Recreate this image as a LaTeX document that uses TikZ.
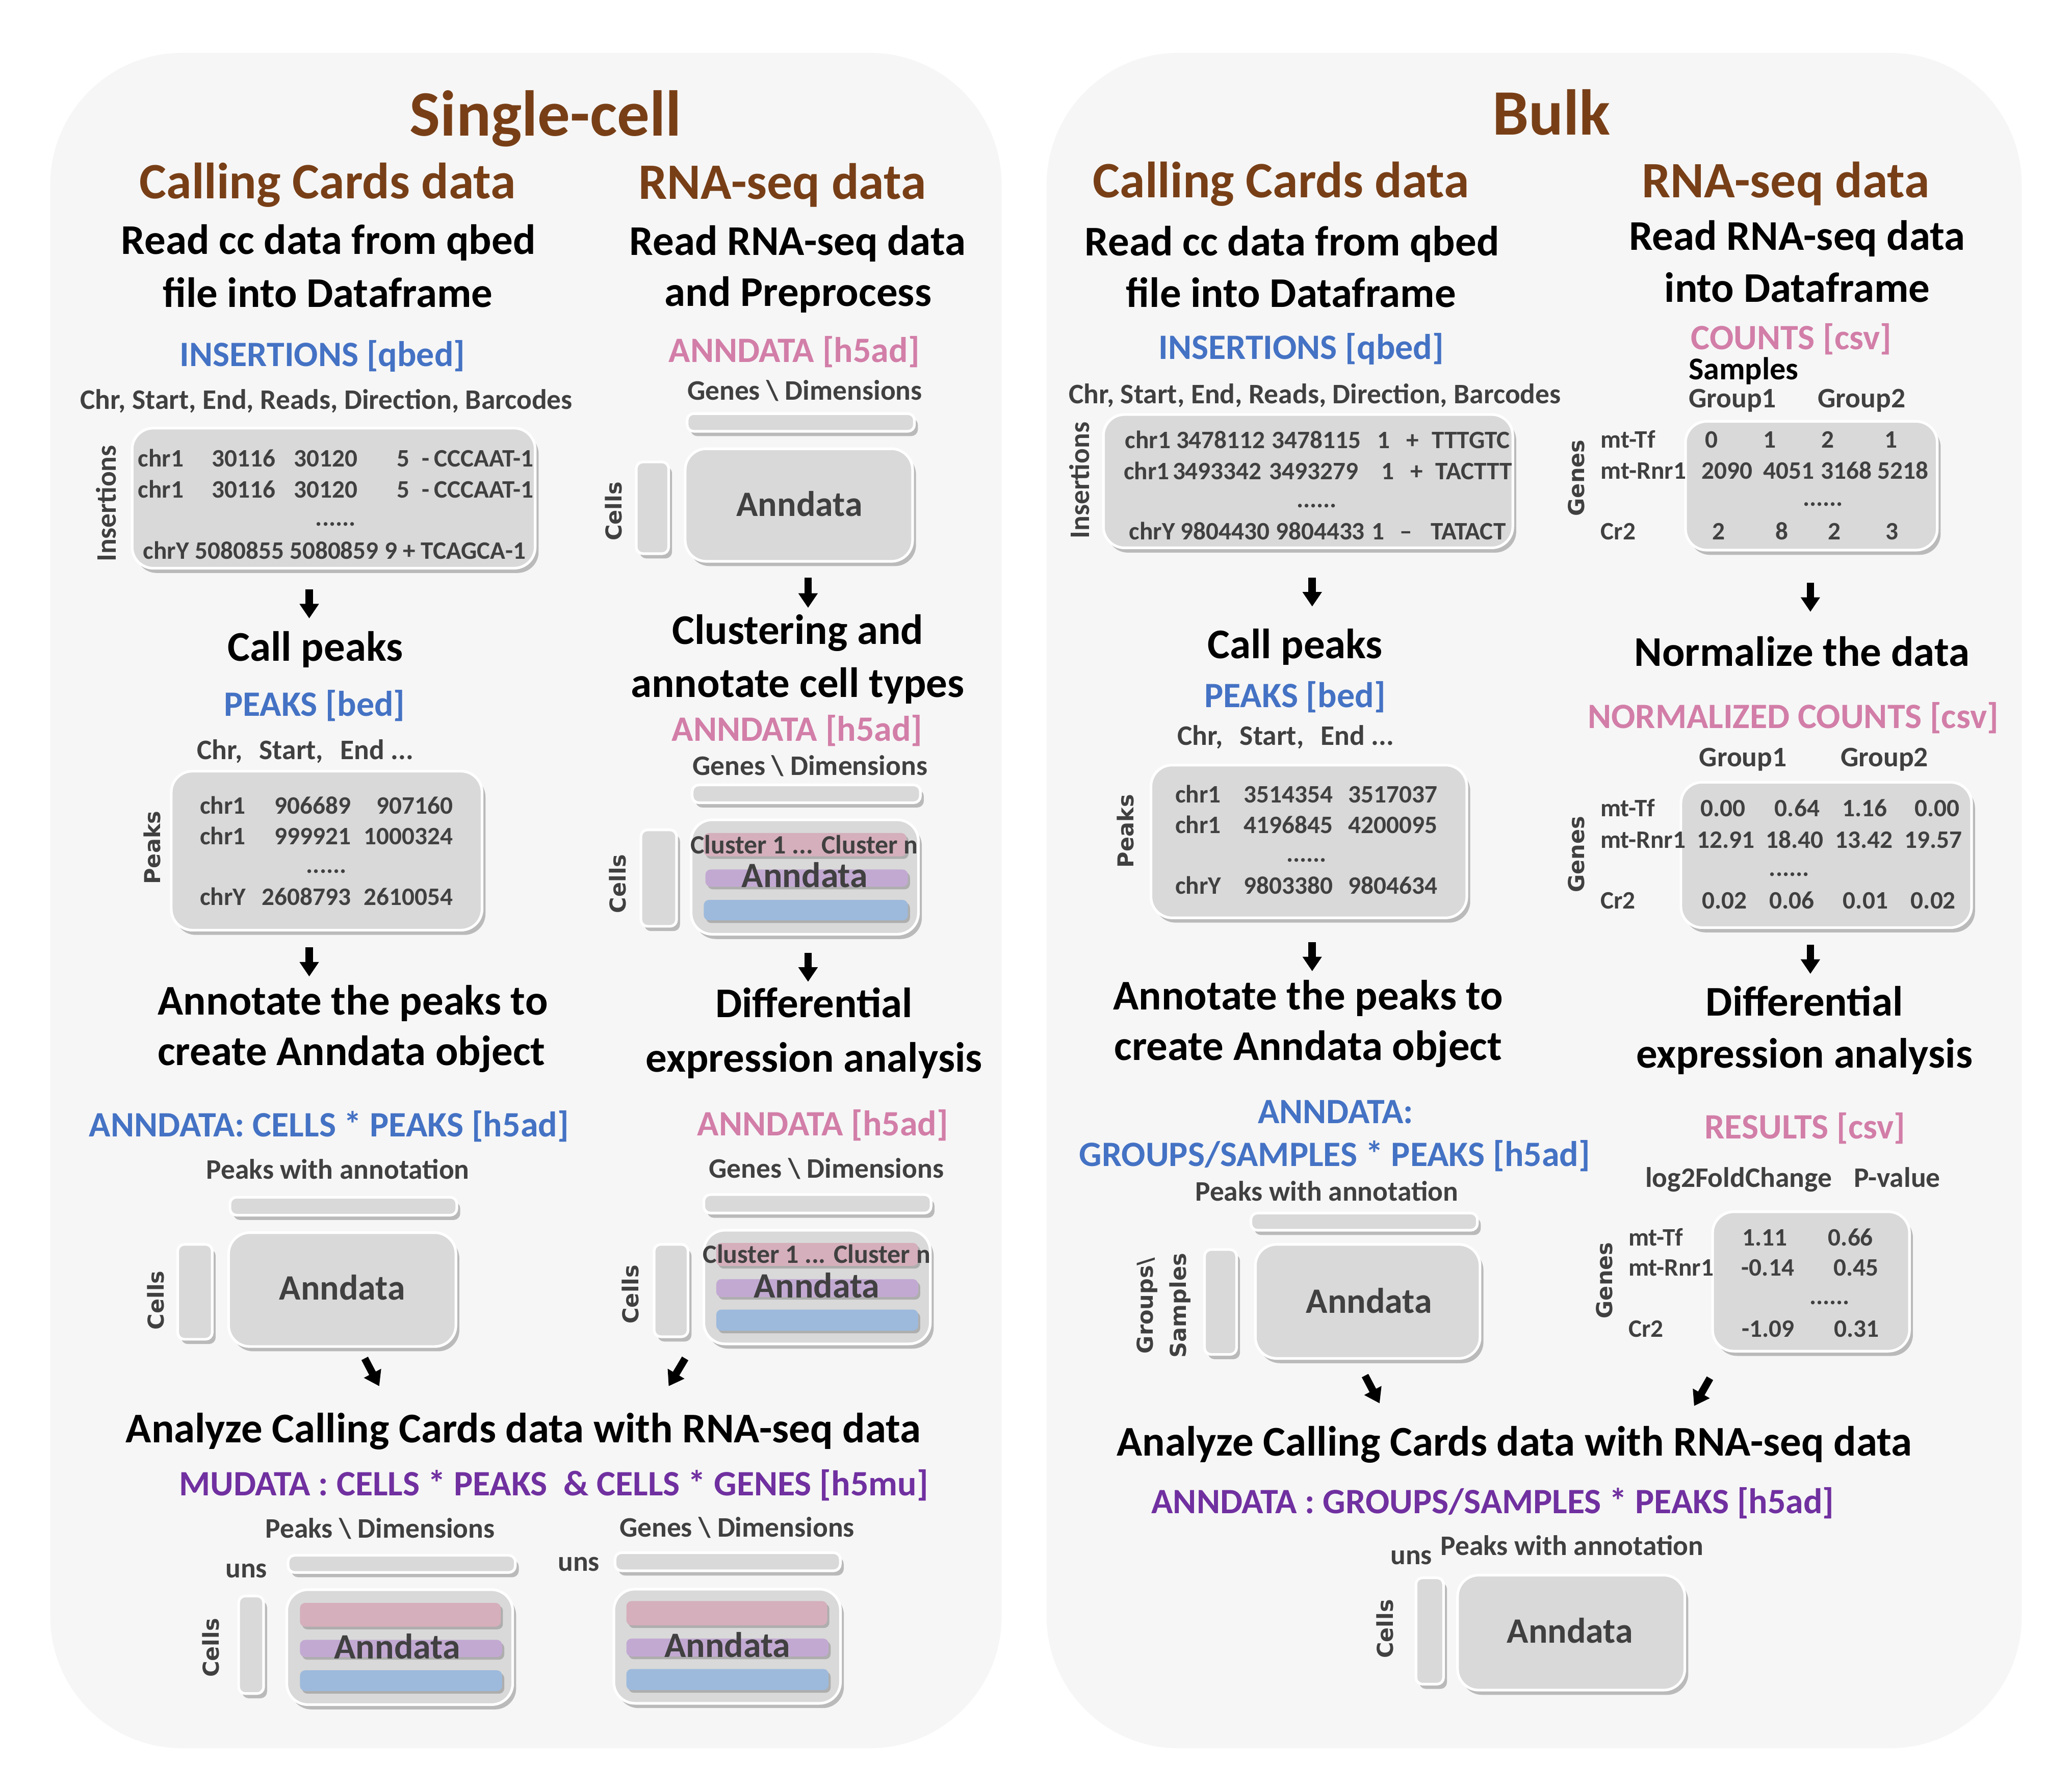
\documentclass[tikz,border=0pt]{standalone}
\usepackage{fontspec}
\setmainfont{Carlito}
\newfontfamily\widesans{DejaVu Sans}
\usetikzlibrary{fit,positioning,shadows,arrows.meta}
\definecolor{ccbrown}{RGB}{120,63,23}
\definecolor{ccblue}{RGB}{68,114,196}
\definecolor{rnapink}{RGB}{210,126,168}
\definecolor{mupurple}{RGB}{112,48,160}
\definecolor{txtgray}{RGB}{64,64,64}
\definecolor{boxgray}{RGB}{217,217,217}
\definecolor{panelgray}{RGB}{246,246,246}
\definecolor{bandpink}{RGB}{213,175,187}
\definecolor{bandpurple}{RGB}{194,169,210}
\definecolor{bandblue}{RGB}{157,186,220}

\begin{document}
\begin{tikzpicture}[x=0.5pt,y=-0.5pt,inner sep=0pt]
\tikzstyle{title}=[font=\fontsize{24.5}{29}\selectfont\bfseries, text=ccbrown, anchor=base, yshift=-7.9pt]
\tikzstyle{sub}=[font=\fontsize{19.3}{23}\selectfont\bfseries, text=ccbrown, anchor=base, yshift=-6.2pt]
\tikzstyle{head}=[font=\fontsize{16}{19}\selectfont\bfseries, anchor=base, yshift=-5.15pt]
\tikzstyle{fmt}=[font=\fontsize{13.5}{16}\selectfont\bfseries, anchor=base, yshift=-4.35pt]
\tikzstyle{samp}=[font=\fontsize{12}{14}\selectfont\bfseries, anchor=base, yshift=-3.86pt]
\tikzstyle{dim}=[font=\fontsize{10.7}{13}\selectfont\bfseries, text=txtgray, anchor=base, yshift=-3.45pt]
\tikzstyle{cell}=[font=\fontsize{9.5}{11}\selectfont\bfseries, text=txtgray, anchor=base, yshift=-3.06pt]
\tikzstyle{clus}=[font=\fontsize{10}{12}\selectfont\bfseries, text=txtgray, anchor=base, yshift=-3.2pt]
\tikzstyle{ann}=[font=\fontsize{13.5}{16}\selectfont\bfseries, text=txtgray, anchor=base, yshift=-4.35pt]
\tikzstyle{side}=[font=\widesans\fontsize{8.3}{10}\selectfont\bfseries, text=txtgray, rotate=90]
\tikzstyle{sidecal}=[font=\fontsize{10.7}{13}\selectfont\bfseries, text=txtgray, rotate=90]
\tikzstyle{panel}=[rectangle, rounded corners=50pt, fill=panelgray]
\tikzstyle{tbl}=[rectangle, rounded corners=8pt, fill=boxgray, draw=white, line width=1pt, drop shadow={shadow xshift=1.3pt, shadow yshift=-1.8pt, opacity=0.35, fill=black!70}]
\tikzstyle{bar}=[tbl, rounded corners=2.5pt]
\tikzstyle{band}=[rectangle, rounded corners=2pt, drop shadow={shadow xshift=0.8pt, shadow yshift=-1pt, opacity=0.3, fill=black!70}]
\tikzstyle{flow}=[-{Triangle[width=7pt,length=5.5pt]}, line width=2.8pt]
\fill[white] (0,0) rectangle (1568,1353);
\useasboundingbox (0,0) rectangle (1568,1353);
\node[panel, fit={(38,40) (758,1323)}] (scpanel) {};
\node[panel, fit={(792,40) (1530,1323)}] (bkpanel) {};
\foreach \n/\xa/\ya/\xb/\yb in {scl1/234/446/234/468, scl2/234/717/234/739, scr1/611.5/437/611.5/460, scr2/611.5/721/611.5/743, scd1/276/1028/287/1049, scd2/518.5/1028/506/1049, bkl1/993/437/993/459, bkl2/993/713/993/735, bkr1/1370/441/1370/463, bkr2/1370/715/1370/737, bkd1/1033/1041/1044/1062, bkd2/1294/1043/1282/1064}
{
\coordinate (\n-s) at (\xa,\ya);
\coordinate (\n-e) at (\xb,\yb);
\draw[flow] (\n-s) -- (\n-e);
}
\node[title] (sctitle) at (413,87) {Single-cell};
\node[sub] (sccc) at (248,138) {Calling Cards data};
\node[sub] (scrna) at (592,138.4) {RNA-seq data};
\node[head] (scread1) at (248.6,182) {Read cc data from qbed};
\node[head] (scread2) at (248,222) {file into Dataframe};
\node[head] (scrnaread1) at (603.6,183) {Read RNA-seq data};
\node[head] (scrnaread2) at (604,221.5) {and Preprocess};
\node[fmt, text=ccblue] (scins) at (244,268.5) {INSERTIONS [qbed]};
\node[fmt, text=rnapink] (scrnafmt) at (601,265.5) {ANNDATA [h5ad]};
\node[dim] (scinscols) at (247,302.6) {Chr, Start, End, Reads, Direction, Barcodes};
\node[dim] (scrnadim) at (609,295.8) {Genes \textbackslash{} Dimensions};
\node[tbl, fit={(100,324) (405,430)}] (scinsbox) {};
\foreach \y [count=\j] in {347,370.6}
 \foreach \t/\x [count=\i] in {chr1/104,30116/160,30120/222,5/300,-/319,CCCAAT-1/328}
  \node[cell, anchor=base west] (scins\j-\i) at (\x,\y) {\t};
\node[cell] (scinsdots) at (254,392) {......};
\node[cell, anchor=base west] (scins3) at (108,417) {chrY 5080855 5080859 9 + TCAGCA-1};
\node[sidecal] (scinsside) at (80.5,381) {Insertions};
\node[bar, fit={(520,313) (692,326.4)}] (scgenebar) {};
\node[bar, fit={(481.5,349.6) (506,419)}] (sccellbar) {};
\node[tbl, fit={(518.5,339.6) (690.6,424.8)}] (scannbox) {};
\node[ann] (scann) at (605,382) {Anndata};
\node[side] (sccells) at (464.4,387) {Cells};
\node[head] (sccall) at (238.6,490) {Call peaks};
\node[fmt, text=ccblue] (scpeaks) at (238,533) {PEAKS [bed]};
\node[dim] (scpeakcols) at (231,567.7) {Chr,\hspace{4pt} Start,\hspace{4pt} End ...};
\node[tbl, fit={(129.6,583.6) (364.8,703.9)}] (scpeakbox) {};
\foreach \c/\s/\e/\y [count=\i] in {chr1/906689/907160/610, chr1/999921/1000324/633, chrY/2608793/2610054/679}
{
\node[cell, anchor=base west] (scpk\i-a) at (151,\y) {\c};
\node[cell, anchor=base east] (scpk\i-b) at (266,\y) {\s};
\node[cell, anchor=base east] (scpk\i-c) at (343,\y) {\e};
}
\node[cell] (scpkdots) at (247,654.5) {......};
\node[side] (scpeakside) at (115.3,641.5) {Peaks};
\node[head] (scclust1) at (603.7,477.3) {Clustering and};
\node[head] (scclust2) at (603.6,517.4) {annotate cell types};
\node[fmt, text=rnapink] (scclustfmt) at (603.3,552) {ANNDATA [h5ad]};
\node[dim] (scclustdim) at (613,579.7) {Genes \textbackslash{} Dimensions};
\node[bar, fit={(523.8,594) (696.5,607.5)}] (scclbar) {};
\node[bar, fit={(485,628) (512,701)}] (scclcellbar) {};
\node[tbl, fit={(523,620.4) (695,707)}] (scclbox) {};
\node[band, fill=bandpink, fit={(532.6,630.4) (686,648)}] (scclpink) {};
\node[band, fill=bandpurple, fit={(533.8,658) (687,671)}] (scclpurple) {};
\node[band, fill=bandblue, fit={(532.6,681) (687,696.5)}] (scclblue) {};
\node[clus] (scclnames) at (608.6,639.5) {Cluster 1 ... Cluster n};
\node[ann] (scclann) at (609,663) {Anndata};
\node[side] (scclcells) at (467.6,668.8) {Cells};
\node[head] (scannot1) at (267,757.6) {Annotate the peaks to};
\node[head] (scannot2) at (266,796) {create Anndata object};
\node[head] (scdiff1) at (616,759.6) {Differential};
\node[head] (scdiff2) at (616,801) {expression analysis};
\node[fmt, text=ccblue] (sccpfmt) at (249,851.6) {ANNDATA: CELLS * PEAKS [h5ad]};
\node[fmt, text=rnapink] (scdifffmt) at (622.7,850.6) {ANNDATA [h5ad]};
\node[dim] (sccpdim) at (255.7,885.5) {Peaks with annotation};
\node[dim] (scdiffdim) at (625.4,884.6) {Genes \textbackslash{} Dimensions};
\node[bar, fit={(174,906) (345.7,919.6)}] (sccpbar) {};
\node[bar, fit={(134.5,941.7) (160.6,1013.5)}] (sccpcellbar) {};
\node[tbl, fit={(173,932.8) (345,1019)}] (sccpbox) {};
\node[ann] (sccpann) at (259,975) {Anndata};
\node[side] (sccpcells) at (117.7,984) {Cells};
\node[bar, fit={(532.6,904) (704.6,918)}] (scdfbar) {};
\node[bar, fit={(495,941.7) (520.7,1011.6)}] (scdfcellbar) {};
\node[tbl, fit={(532.6,931) (704,1017)}] (scdfbox) {};
\node[band, fill=bandpink, fit={(542,940.6) (694.8,958)}] (scdfpink) {};
\node[band, fill=bandpurple, fit={(542,968) (694.8,981.5)}] (scdfpurple) {};
\node[band, fill=bandblue, fit={(542,991) (694.8,1007)}] (scdfblue) {};
\node[clus] (scdfnames) at (618,949.5) {Cluster 1 ... Cluster n};
\node[ann] (scdfann) at (618,973.6) {Anndata};
\node[side] (scdfcells) at (477,979.5) {Cells};
\node[head] (scanalyze) at (396,1081.3) {Analyze Calling Cards data with RNA-seq data};
\node[fmt, text=mupurple] (scmufmt) at (419,1123) {MUDATA : CELLS * PEAKS\ \ \& CELLS * GENES [h5mu]};
\node[dim] (scmupeak) at (287.7,1157) {Peaks \textbackslash{} Dimensions};
\node[dim] (scmugene) at (557.7,1156) {Genes \textbackslash{} Dimensions};
\node[dim] (scuns1) at (186.4,1187) {uns};
\node[dim] (scuns2) at (438,1182) {uns};
\node[bar, fit={(218,1177) (390,1190)}] (scmubar1) {};
\node[bar, fit={(465.4,1175) (635.9,1188.7)}] (scmubar2) {};
\node[bar, fit={(180.6,1207.8) (199.5,1281.6)}] (scmucellbar) {};
\node[tbl, fit={(217,1203) (388,1290)}] (scmubox1) {};
\node[band, fill=bandpink, fit={(227,1213) (379,1231)}] (scmupink1) {};
\node[band, fill=bandpurple, fit={(227,1241) (380,1254)}] (scmupurple1) {};
\node[band, fill=bandblue, fit={(227,1264) (380,1279.7)}] (scmublue1) {};
\node[ann] (scmuann1) at (300.6,1246.5) {Anndata};
\node[tbl, fit={(464.5,1202.6) (636,1289)}] (scmubox2) {};
\node[band, fill=bandpink, fit={(474,1211.6) (626,1230)}] (scmupink2) {};
\node[band, fill=bandpurple, fit={(474,1240) (627,1253.6)}] (scmupurple2) {};
\node[band, fill=bandblue, fit={(474,1263) (627,1279)}] (scmublue2) {};
\node[ann] (scmuann2) at (550.4,1245.6) {Anndata};
\node[side] (scmucells) at (159.7,1247) {Cells};
\node[title] (bktitle) at (1174,86.2) {Bulk};
\node[sub] (bkcc) at (969.5,137) {Calling Cards data};
\node[sub] (bkrna) at (1351.4,137) {RNA-seq data};
\node[head] (bkread1) at (977.8,183.3) {Read cc data from qbed};
\node[head] (bkread2) at (977,222) {file into Dataframe};
\node[head] (bkrnaread1) at (1360,179) {Read RNA-seq data};
\node[head] (bkrnaread2) at (1360,218.2) {into Dataframe};
\node[fmt, text=ccblue] (bkins) at (984.7,263.3) {INSERTIONS [qbed]};
\node[fmt, text=rnapink] (bkcounts) at (1355.7,255.7) {COUNTS [csv]};
\node[samp] (bksamples) at (1319.5,279.7) {Samples};
\node[dim] (bkgrp1) at (1311,301.7) {Group1};
\node[dim] (bkgrp2) at (1408.7,301.7) {Group2};
\node[dim] (bkinscols) at (995,298.3) {Chr, Start, End, Reads, Direction, Barcodes};
\node[tbl, fit={(835,313.7) (1144.8,414.6)}] (bkinsbox) {};
\foreach \t/\x [count=\i] in {chr1/851,3478112/889.7,3478115/962,1/1042,+/1064,TTTGTC/1083}
 \node[cell, anchor=base west] (bkins1-\i) at (\x,333.4) {\t};
\foreach \t/\x [count=\i] in {chr1/850,3493342/887,3493279/960,1/1045,+/1067,TACTTT/1086}
 \node[cell, anchor=base west] (bkins2-\i) at (\x,356.9) {\t};
\foreach \t/\x [count=\i] in {chrY/854,9804430/893,9804433/965,1/1037.5,\textendash/1059,TATACT/1082.4}
 \node[cell, anchor=base west] (bkins3-\i) at (\x,402.4) {\t};
\node[cell] (bkinsdots) at (996.4,378) {......};
\node[sidecal] (bkinsside) at (816.8,363.5) {Insertions};
\node[tbl, fit={(1275.5,318.9) (1466,416.3)}] (bkcntbox) {};
\foreach \t/\y [count=\i] in {mt-Tf/332.8, mt-Rnr1/356.3, Cr2/402.4}
 \node[cell, anchor=base west] (bkcntrow\i) at (1211,\y) {\t};
\foreach \v/\x/\y [count=\i] in {0/1295.3/332.8, 1/1339.3/332.8, 2/1383/332.8, 1/1430.9/332.8, 2090/1307/356.3, 4051/1353.8/356.3, 3168/1397.2/356.3, 5218/1440/356.3, 2/1300.6/402.4, 8/1348.6/402.4, 2/1388/402.4, 3/1431.6/402.4}
 \node[cell] (bkcnt\i) at (\x,\y) {\v};
\node[cell] (bkcntdots) at (1379.5,377) {......};
\node[side] (bkcntside) at (1193,361.7) {Genes};
\node[head] (bkcall) at (980,488) {Call peaks};
\node[fmt, text=ccblue] (bkpeaks) at (980,526.6) {PEAKS [bed]};
\node[dim] (bkpeakcols) at (973,557) {Chr,\hspace{4pt} Start,\hspace{4pt} End ...};
\node[tbl, fit={(871,579) (1110,694.6)}] (bkpeakbox) {};
\foreach \c/\s/\e/\y [count=\i] in {chr1/3514354/3517037/601.5, chr1/4196845/4200095/624.6, chrY/9803380/9804634/670.6}
{
\node[cell, anchor=base west] (bkpk\i-a) at (889,\y) {\c};
\node[cell, anchor=base east] (bkpk\i-b) at (1009,\y) {\s};
\node[cell, anchor=base east] (bkpk\i-c) at (1088,\y) {\e};
}
\node[cell] (bkpkdots) at (988.7,646) {......};
\node[side] (bkpeakside) at (851.6,629) {Peaks};
\node[head] (bknorm) at (1363.6,493.6) {Normalize the data};
\node[fmt, text=rnapink] (bknormfmt) at (1357,542.6) {NORMALIZED COUNTS [csv]};
\node[dim] (bkngrp1) at (1319,573) {Group1};
\node[dim] (bkngrp2) at (1426,573) {Group2};
\node[tbl, fit={(1272,592) (1492,702)}] (bknormbox) {};
\foreach \t/\y [count=\i] in {mt-Tf/611.6, mt-Rnr1/635.6, Cr2/681.8}
 \node[cell, anchor=base west] (bknormrow\i) at (1210.7,\y) {\t};
\foreach \v/\x/\y [count=\i] in {0.00/1304/611.6, 0.64/1360/611.6, 1.16/1411/611.6, 0.00/1466/611.6, 12.91/1306/635.6, 18.40/1358/635.6, 13.42/1410.5/635.6, 19.57/1463/635.6, 0.02/1305/681.8, 0.06/1356/681.8, 0.01/1411.7/681.8, 0.02/1463/681.8}
 \node[cell] (bknorm\i) at (\x,\y) {\v};
\node[cell] (bknormdots) at (1354,657) {......};
\node[side] (bknormside) at (1193,646.6) {Genes};
\node[head] (bkannot1) at (990,753.7) {Annotate the peaks to};
\node[head] (bkannot2) at (990,792) {create Anndata object};
\node[head] (bkdiff1) at (1365.5,758.6) {Differential};
\node[head] (bkdiff2) at (1365.5,798) {expression analysis};
\node[fmt, text=ccblue] (bkgpfmt1) at (1010.7,841.3) {ANNDATA:};
\node[fmt, text=ccblue] (bkgpfmt2) at (1010,873.8) {GROUPS/SAMPLES * PEAKS [h5ad]};
\node[fmt, text=rnapink] (bkresfmt) at (1366,853) {RESULTS [csv]};
\node[dim] (bkgpdim) at (1004,902) {Peaks with annotation};
\node[dim] (bkres1) at (1315.7,891.5) {log2FoldChange};
\node[dim] (bkres2) at (1435.7,891.5) {P-value};
\node[bar, fit={(946.6,918) (1118,931)}] (bkgpbar) {};
\node[bar, fit={(911.5,945.6) (935.8,1025)}] (bkgpgrpbar) {};
\node[tbl, fit={(950,941.7) (1120,1028)}] (bkgpbox) {};
\node[ann] (bkgpann) at (1036,985) {Anndata};
\node[side] (bkgpside1) at (868,988) {Groups\textbackslash};
\node[side] (bkgpside2) at (893,988) {Samples};
\node[tbl, fit={(1296,917) (1445,1022.5)}] (bkresbox) {};
\foreach \t/\y [count=\i] in {mt-Tf/936.8, mt-Rnr1/959.4, Cr2/1005.6}
 \node[cell, anchor=base west] (bkresrow\i) at (1232,\y) {\t};
\foreach \v/\x/\y [count=\i] in {1.11/1335.5/936.8, 0.66/1400.5/936.8, -0.14/1337.8/959.4, 0.45/1404.7/959.4, -1.09/1338/1005.6, 0.31/1405/1005.6}
 \node[cell] (bkres\i) at (\x,\y) {\v};
\node[cell] (bkresdots) at (1384.6,981) {......};
\node[side] (bkresside) at (1214,969) {Genes};
\node[head] (bkanalyze) at (1146,1091.5) {Analyze Calling Cards data with RNA-seq data};
\node[fmt, text=mupurple] (bkadfmt) at (1129.7,1136.7) {ANNDATA : GROUPS/SAMPLES * PEAKS [h5ad]};
\node[dim] (bkuns) at (1068,1177) {uns};
\node[dim] (bkpwa) at (1189.6,1170) {Peaks with annotation};
\node[bar, fit={(1071.5,1194) (1092.4,1274.5)}] (bkadcellbar) {};
\node[tbl, fit={(1103,1192) (1275,1279)}] (bkadbox) {};
\node[ann] (bkadann) at (1188,1234.6) {Anndata};
\node[side] (bkadcells) at (1048,1232.7) {Cells};
\end{tikzpicture}
\end{document}
